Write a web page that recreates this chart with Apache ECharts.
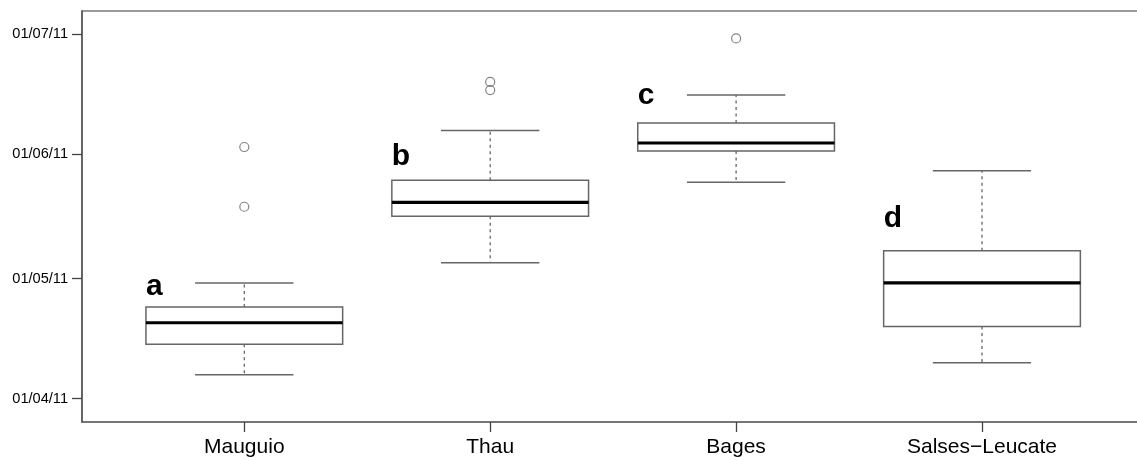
<!DOCTYPE html>
<html>
<head>
<meta charset="utf-8">
<script src="https://cdn.jsdelivr.net/npm/echarts@6/dist/echarts.min.js"></script>
<style>
html,body{margin:0;padding:0;background:#fff;}
#chart{width:1137px;height:461px;}
</style>
</head>
<body>
<div id="chart"></div>
<script>
// Values are day-of-year 2011 (1 = 1 Jan; 91 = 1 Apr)
const categories = ['Mauguio', 'Thau', 'Bages', 'Salses\u2212Leucate'];
const positions = [1, 2, 3, 4];
const lowWhisker = [97.0, 124.9, 145.0, 100.0];
const q1 = [104.6, 136.5, 152.8, 109.0];
const median = [109.95, 140.0, 154.8, 119.9];
const q3 = [113.9, 145.5, 159.8, 127.9];
const highWhisker = [119.9, 157.9, 166.8, 147.9];
const outlierPos = [1, 1, 2, 2, 3];
const outlierDays = [138.9, 153.8, 168.0, 170.05, 180.9];
const letters = ['a', 'b', 'c', 'd'];
const letterDays = [119.0, 151.4, 166.5, 135.8];
const tickDays = [91, 121, 152, 182];
const tickLabels = ['01/04/11', '01/05/11', '01/06/11', '01/07/11'];

const boxData = positions.map((p, i) => [p, lowWhisker[i], q1[i], median[i], q3[i], highWhisker[i], letterDays[i]]);
const outData = outlierPos.map((p, i) => [p, outlierDays[i]]);

const FONT = '"Liberation Sans", Arial, Helvetica, sans-serif';
const BOXW = 0.8;

const chart = echarts.init(document.getElementById('chart'), null, {renderer: 'canvas'});
chart.setOption({
  animation: false,
  backgroundColor: '#fff',
  grid: {
    left: 82, top: 11, bottom: 39, right: -7.3,
    outerBoundsMode: 'none', containLabel: false,
    show: true, borderColor: '#7a7a7a', borderWidth: 1.5, backgroundColor: 'transparent'
  },
  xAxis: {
    type: 'value', min: 0.34, max: 4.66,
    splitLine: {show: false},
    axisLine: {show: true, lineStyle: {color: '#6a6a6a', width: 1.5}},
    axisTick: {show: true, length: 10, customValues: positions, lineStyle: {color: '#444', width: 1.3}},
    axisLabel: {
      customValues: positions, margin: 15,
      fontFamily: FONT, fontSize: 21, color: '#000',
      formatter: v => categories[positions.indexOf(v)] || ''
    }
  },
  yAxis: {
    type: 'value', min: 85.19, max: 187.74,
    splitLine: {show: false},
    axisLine: {show: true, lineStyle: {color: '#555', width: 1.5}},
    axisTick: {show: true, length: 10, customValues: tickDays, lineStyle: {color: '#444', width: 1.3}},
    axisLabel: {
      customValues: tickDays, margin: 14,
      fontFamily: FONT, fontSize: 14.6, color: '#000',
      formatter: v => tickLabels[tickDays.indexOf(v)] || ''
    }
  },
  series: [
    {
      type: 'custom',
      data: boxData,
      encode: {x: 0, y: [1, 2, 3, 4, 5]},
      renderItem: function (params, api) {
        const x = api.value(0);
        const pLo = api.coord([x, api.value(1)]);
        const pQ1 = api.coord([x, api.value(2)]);
        const pMed = api.coord([x, api.value(3)]);
        const pQ3 = api.coord([x, api.value(4)]);
        const pHi = api.coord([x, api.value(5)]);
        const pLet = api.coord([x, api.value(6)]);
        const halfW = api.size([BOXW / 2, 0])[0];
        const capHalf = halfW / 2;
        const cx = pMed[0];
        const grey = '#666';
        return {
          type: 'group',
          children: [
            {type: 'line', shape: {x1: cx, y1: pQ3[1], x2: cx, y2: pHi[1]},
              style: {stroke: grey, lineWidth: 1.3, lineDash: [3, 3.5]}},
            {type: 'line', shape: {x1: cx, y1: pQ1[1], x2: cx, y2: pLo[1]},
              style: {stroke: grey, lineWidth: 1.3, lineDash: [3, 3.5]}},
            {type: 'line', shape: {x1: cx - capHalf, y1: pHi[1], x2: cx + capHalf, y2: pHi[1]},
              style: {stroke: grey, lineWidth: 1.5}},
            {type: 'line', shape: {x1: cx - capHalf, y1: pLo[1], x2: cx + capHalf, y2: pLo[1]},
              style: {stroke: grey, lineWidth: 1.5}},
            {type: 'rect', shape: {x: cx - halfW, y: pQ3[1], width: 2 * halfW, height: pQ1[1] - pQ3[1]},
              style: {fill: '#fff', stroke: grey, lineWidth: 1.5}},
            {type: 'line', shape: {x1: cx - halfW, y1: pMed[1], x2: cx + halfW, y2: pMed[1]},
              style: {stroke: '#000', lineWidth: 3.2}},
            {type: 'text', x: cx - halfW, y: pLet[1],
              style: {text: letters[params.dataIndex], fill: '#000',
                font: 'bold 30px ' + FONT, align: 'left', verticalAlign: 'middle'}}
          ]
        };
      }
    },
    {
      type: 'scatter',
      data: outData,
      symbol: 'circle',
      symbolSize: 9,
      itemStyle: {color: 'rgba(255,255,255,0)', borderColor: '#666', borderWidth: 1.2}
    }
  ]
});
</script>
</body>
</html>
